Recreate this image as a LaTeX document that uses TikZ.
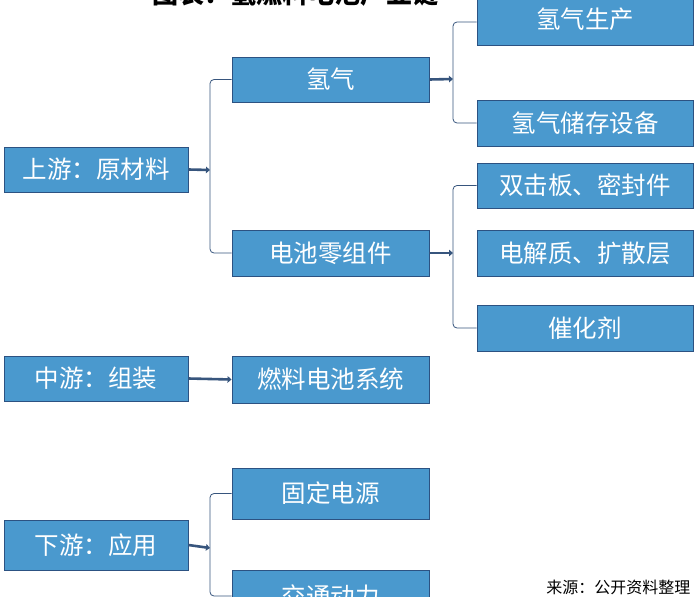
\documentclass[tikz,border=0pt]{standalone}
\usepackage{fontspec}
\setmainfont{Noto Sans CJK SC}
\usetikzlibrary{arrows.meta}
\definecolor{boxfill}{RGB}{74,153,206}
\definecolor{boxline}{RGB}{44,82,130}
\definecolor{conn}{RGB}{55,85,125}
\begin{document}
\begin{tikzpicture}[x=1pt,y=-1pt,
  bx/.style={draw=boxline,line width=0.9pt,fill=boxfill,text=white,font=\fontsize{24.5}{28}\selectfont,inner sep=0pt},
  br/.style={draw=conn,line width=0.8pt,rounded corners=4pt},
  ar/.style={draw=conn,line width=2.6pt,-{Triangle[length=4pt,width=6.5pt]}}]
\useasboundingbox (0,0) rectangle (700,596);
\clip (0,0) rectangle (700,596);
\node[font=\bfseries\fontsize{26}{30}\selectfont,anchor=base] (title) at (295,4) {图表：氢燃料电池产业链};
\newcommand{\bxat}[6]{\node[bx,minimum width=#4-#2,minimum height=#5-#3] (#1) at ({(#2+#4)/2},{(#3+#5)/2}) {#6};}
\bxat{up}{4}{147}{188}{192}{上游：原材料}
\bxat{h2}{232}{57}{429}{102}{氢气}
\bxat{cell}{232}{230}{429}{276}{电池零组件}
\bxat{prod}{477}{-6}{693}{45}{氢气生产}
\bxat{stor}{477}{100}{693}{146}{氢气储存设备}
\bxat{bp}{477}{163}{693}{208}{双击板、密封件}
\bxat{el}{477}{230}{693}{276}{电解质、扩散层}
\bxat{cat}{477}{305}{693}{351}{催化剂}
\bxat{mid}{4}{356}{188}{401}{中游：组装}
\bxat{sys}{232}{356}{429}{403}{燃料电池系统}
\bxat{fix}{232}{468}{429}{519}{固定电源}
\bxat{down}{4}{520}{188}{570}{下游：应用}
\bxat{trans}{232}{570}{429}{622}{交通动力}
\node[anchor=east,font=\fontsize{16}{18}\selectfont] (src) at (694,587) {来源：公开资料整理};
\coordinate (j1) at (210,170);
\draw[ar] (up.east) -- (j1);
\draw[br] (h2.west) -| (j1) |- (cell.west);
\coordinate (j2) at (453,79);
\draw[ar] (h2.east) -- (j2);
\draw[br] (prod.west|-0,22) -| (j2) |- (stor.west);
\coordinate (j3) at (453,253);
\draw[ar] (cell.east) -- (j3);
\draw[br] (bp.west) -| (j3) |- (cat.west);
\draw[ar] (mid.east) -- (sys.west);
\coordinate (j4) at (210,548);
\draw[ar] (down.east) -- (j4);
\draw[br] (fix.west) -| (j4) |- (trans.west);
\end{tikzpicture}
\end{document}
